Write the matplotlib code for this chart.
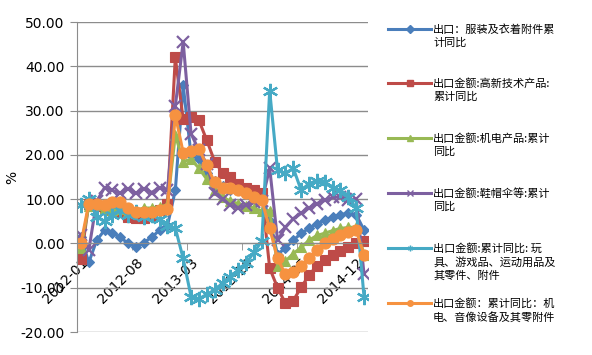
import matplotlib
matplotlib.use("Agg")
import matplotlib.pyplot as plt
from matplotlib.lines import Line2D
import numpy as np
import pandas as pd

plt.rcParams['font.family'] = ['Noto Sans CJK SC', 'DejaVu Sans']

months = list(pd.period_range("2012-01", "2015-01", freq="M").strftime("%Y-%m"))

clothing = [1.5, -4.3, 0.7, 3.0, 2.3, 1.4, 0.0, -0.8, 0.2, 1.4, 3.0, 4.0,
            12.0, 35.7, 20.0, 19.0, 16.0, 14.0, 13.0, 12.0, 12.0, 11.5, 11.3, 11.3,
            5.0, -2.5, -1.0, 0.7, 2.3, 3.4, 4.5, 5.2, 5.9, 6.5, 6.8, 6.5, 3.0]
hightech = [-3.5, 9.0, 8.5, 8.0, 7.5, 7.0, 6.0, 5.7, 5.8, 6.3, 7.5, 9.0,
            42.0, 28.0, 28.5, 27.8, 23.3, 18.5, 16.0, 15.0, 13.5, 12.5, 12.0, 11.3,
            -5.6, -10.0, -13.5, -12.9, -9.9, -7.2, -5.0, -3.8, -2.7, -1.6, -0.9, 0.0, 0.5]
mech_elec = [-1.0, 8.5, 8.7, 8.0, 7.5, 7.7, 7.2, 7.5, 8.0, 8.0, 8.3, 8.7,
             24.5, 18.5, 19.0, 17.0, 14.5, 12.0, 10.5, 9.5, 9.0, 8.5, 8.0, 7.3,
             7.4, -5.0, -4.0, -2.3, -0.9, 0.7, 1.8, 2.3, 2.9, 3.4, 3.6, 3.7, -2.5]
footwear = [2.0, -1.5, 9.5, 12.6, 12.0, 11.3, 12.4, 11.3, 12.4, 11.5, 12.6, 12.0,
            31.0, 45.5, 24.8, 21.0, 18.0, 11.3, 10.0, 8.6, 8.1, 8.6, 9.3, 9.5,
            17.0, 0.7, 3.6, 5.6, 6.8, 8.0, 9.0, 9.7, 10.4, 10.5, 9.7, 10.0, -7.0]
toys = [8.7, 10.0, 6.0, 5.0, 6.5, 7.5, 6.5, 7.0, 6.0, 6.5, 5.5, 4.0,
        3.5, -3.4, -12.0, -12.5, -11.5, -10.5, -9.0, -7.5, -6.0, -4.5, -2.0, 0.5,
        34.5, 16.5, 15.8, 17.0, 12.0, 13.5, 14.2, 13.8, 12.6, 12.0, 10.4, 8.0, -12.2]
av_equip = [0.0, 9.0, 9.0, 8.6, 9.4, 9.4, 7.9, 7.1, 7.1, 7.1, 7.5, 7.8,
            29.0, 20.5, 20.8, 21.4, 17.6, 13.8, 12.6, 12.6, 12.0, 11.3, 10.4, 9.7,
            3.4, -3.4, -7.0, -6.5, -5.0, -3.4, -1.5, 0.0, 1.0, 1.8, 2.5, 3.0, -2.7]

labels = [
    "出口：服装及衣着附件累\n计同比",
    "出口金额:高新技术产品:\n累计同比",
    "出口金额:机电产品:累计\n同比",
    "出口金额:鞋帽伞等:累计\n同比",
    "出口金额:累计同比: 玩\n具、游戏品、运动用品及\n其零件、附件",
    "出口金额：累计同比：机\n电、音像设备及其零附件",
]
series = [clothing, hightech, mech_elec, footwear, toys, av_equip]
colors = ["#4A7EBB", "#BE4B48", "#98B954", "#7D60A0", "#46AAC5", "#F69240"]
markers = ["D", "s", "^", "x", (6, 2, 0), "o"]
msizes = [5, 7, 7, 9, 11, 8]

fig = plt.figure(figsize=(5.92, 3.55), dpi=100)
ax = fig.add_axes([77 / 592, 1 - 332 / 355, 291 / 592, 310 / 355])

x = np.arange(len(months))
for vals, c, m, ms in zip(series, colors, markers, msizes):
    ax.plot(x, vals, color=c, lw=2.2, marker=m, markersize=ms,
            markeredgewidth=1.6 if m in ("x", (6, 2, 0)) else 0.8,
            markeredgecolor=c, markerfacecolor=c)

ax.set_xlim(-0.5, len(months) - 0.5)
ax.set_ylim(-20, 50)
ax.set_yticks(np.arange(-20, 51, 10))
ax.yaxis.set_major_formatter(matplotlib.ticker.FormatStrFormatter("%.2f"))
ax.grid(axis="y", color="#8C8C8C", lw=1)
ax.set_axisbelow(True)
ax.spines["top"].set_visible(False)
ax.spines["right"].set_visible(False)
ax.spines["left"].set_color("#8C8C8C")
ax.spines["bottom"].set_color("#8C8C8C")
ax.spines["bottom"].set_position(("data", 0))
ax.tick_params(axis="y", length=5, color="#8C8C8C", labelsize=10, pad=4)
plt.setp(ax.get_yticklabels(), family="DejaVu Sans")

lab_idx = x[::7]
ax.set_xticks(lab_idx)
ax.set_xticklabels([months[i] for i in lab_idx], rotation=45, ha="right",
                   rotation_mode="anchor", fontsize=10,
                   family=["DejaVu Sans"])
ax.tick_params(axis="x", which="major", length=0, pad=9)
ax.set_xticks(np.arange(6.5, len(months), 7), minor=True)
ax.tick_params(axis="x", which="minor", length=5, color="#8C8C8C")

ax.set_ylabel("%", fontsize=10, labelpad=0, family="DejaVu Sans")
ax.yaxis.set_label_coords(-0.2, 0.5)

# legend drawn by hand to follow the uneven spacing of the original
line_y = [29, 83, 138, 193, 248, 303]
for lab, c, m, y in zip(labels, colors, markers, line_y):
    yf = 1 - y / 355
    fig.add_artist(Line2D([388 / 592, 431 / 592], [yf, yf], color=c, lw=2.2,
                          transform=fig.transFigure))
    fig.add_artist(Line2D([409.5 / 592], [yf], color=c, marker=m, markersize=4,
                          markeredgewidth=1, transform=fig.transFigure))
    fig.text(433 / 592, 1 - (y - 5) / 355, lab, fontsize=8, ha="left",
             va="top", linespacing=1.35, transform=fig.transFigure)

fig.savefig("out.png", dpi=100)
